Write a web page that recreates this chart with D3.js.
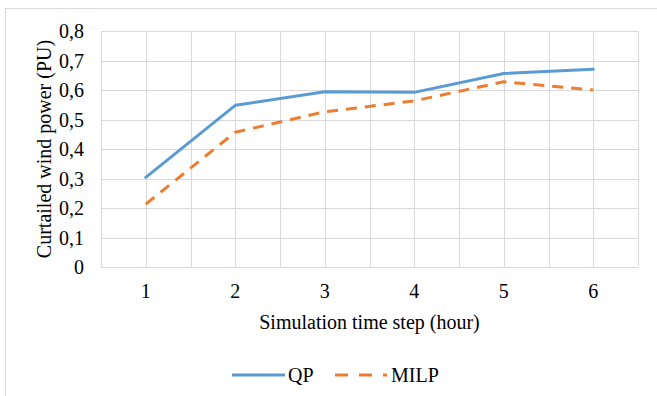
<!DOCTYPE html>
<html>
<head>
<meta charset="utf-8">
<script src="https://cdn.jsdelivr.net/npm/d3@7"></script>
<style>
  body { margin: 0; background: white; }
</style>
</head>
<body>
<svg id="chart" width="657" height="396"></svg>
<script>
// data
const steps = [1, 2, 3, 4, 5, 6];
const qp = [0.304, 0.548, 0.594, 0.592, 0.656, 0.670];
const milp = [0.213, 0.457, 0.526, 0.563, 0.628, 0.600];
const yTicks = [0, 0.1, 0.2, 0.3, 0.4, 0.5, 0.6, 0.7, 0.8];

const W = 657, H = 396;
const margin = { top: 31, right: 19, bottom: 129, left: 101 };
const colors = { qp: "#5B9BD5", milp: "#ED7D31", grid: "#d9d9d9" };
const font = "Liberation Serif";
const fontSize = 20;

const svg = d3.select("#chart");

// every label gets the serif font set on itself
const label = sel => sel
    .attr("font-family", font)
    .attr("font-size", fontSize)
    .attr("fill", "#000");

// chart border
svg.append("rect")
    .attr("x", 5.5).attr("y", 8.5)
    .attr("width", W).attr("height", H)
    .attr("fill", "white")
    .attr("stroke", "#d9d9d9");

const plotW = W - margin.left - margin.right;
const plotH = H - margin.top - margin.bottom;
const plot = svg.append("g").attr("transform", `translate(${margin.left},${margin.top})`);

const x = d3.scaleBand().domain(steps).range([0, plotW]);
const y = d3.scaleLinear().domain([0, 0.8]).range([plotH, 0]);
const xc = d => x(d) + x.bandwidth() / 2;

// horizontal grid
plot.append("g")
    .selectAll("line")
    .data(yTicks)
    .join("line")
    .attr("x1", 0).attr("x2", plotW)
    .attr("y1", d => Math.round(y(d)) + 0.5)
    .attr("y2", d => Math.round(y(d)) + 0.5)
    .attr("stroke", colors.grid);

// vertical grid: band edges and centres
const vLines = [];
steps.forEach(s => { vLines.push(x(s)); vLines.push(xc(s)); });
vLines.push(plotW);
plot.append("g")
    .selectAll("line")
    .data(vLines)
    .join("line")
    .attr("x1", d => Math.round(d) + 0.5).attr("x2", d => Math.round(d) + 0.5)
    .attr("y1", 0).attr("y2", plotH)
    .attr("stroke", colors.grid);

// y tick labels
plot.append("g")
    .selectAll("text")
    .data(yTicks)
    .join("text")
    .call(label)
    .attr("x", -17)
    .attr("y", d => y(d))
    .attr("dy", "0.35em")
    .attr("text-anchor", "end")
    .text(d => d === 0 ? "0" : d3.format(".1f")(d).replace(".", ","));

// x tick labels
plot.append("g")
    .selectAll("text")
    .data(steps)
    .join("text")
    .call(label)
    .attr("x", d => xc(d))
    .attr("y", plotH + 31)
    .attr("text-anchor", "middle")
    .text(d => d);

// axis titles
svg.append("text")
    .call(label)
    .attr("x", margin.left + plotW / 2)
    .attr("y", 329)
    .attr("text-anchor", "middle")
    .text("Simulation time step (hour)");

svg.append("text")
    .call(label)
    .attr("transform", `translate(51,${margin.top + plotH / 2}) rotate(-90)`)
    .attr("text-anchor", "middle")
    .text("Curtailed wind power (PU)");

// series
const line = d3.line().x((d, i) => xc(steps[i])).y(d => y(d));

plot.append("path")
    .datum(qp)
    .attr("d", line)
    .attr("fill", "none")
    .attr("stroke", colors.qp)
    .attr("stroke-width", 3)
    .attr("stroke-linejoin", "round")
    .attr("stroke-linecap", "round");

plot.append("path")
    .datum(milp)
    .attr("d", line)
    .attr("fill", "none")
    .attr("stroke", colors.milp)
    .attr("stroke-width", 3)
    .attr("stroke-dasharray", "11,8")
    .attr("stroke-linejoin", "round");

// legend
const legend = svg.append("g").attr("transform", "translate(232,375)");
legend.append("line")
    .attr("x1", 0).attr("x2", 53).attr("y1", 0).attr("y2", 0)
    .attr("stroke", colors.qp).attr("stroke-width", 3);
legend.append("text")
    .call(label)
    .attr("x", 56).attr("y", 0).attr("dy", "0.35em")
    .text("QP");
legend.append("line")
    .attr("x1", 103).attr("x2", 155).attr("y1", 0).attr("y2", 0)
    .attr("stroke", colors.milp).attr("stroke-width", 3)
    .attr("stroke-dasharray", "13,11");
legend.append("text")
    .call(label)
    .attr("x", 159).attr("y", 0).attr("dy", "0.35em")
    .text("MILP");
</script>
</body>
</html>
